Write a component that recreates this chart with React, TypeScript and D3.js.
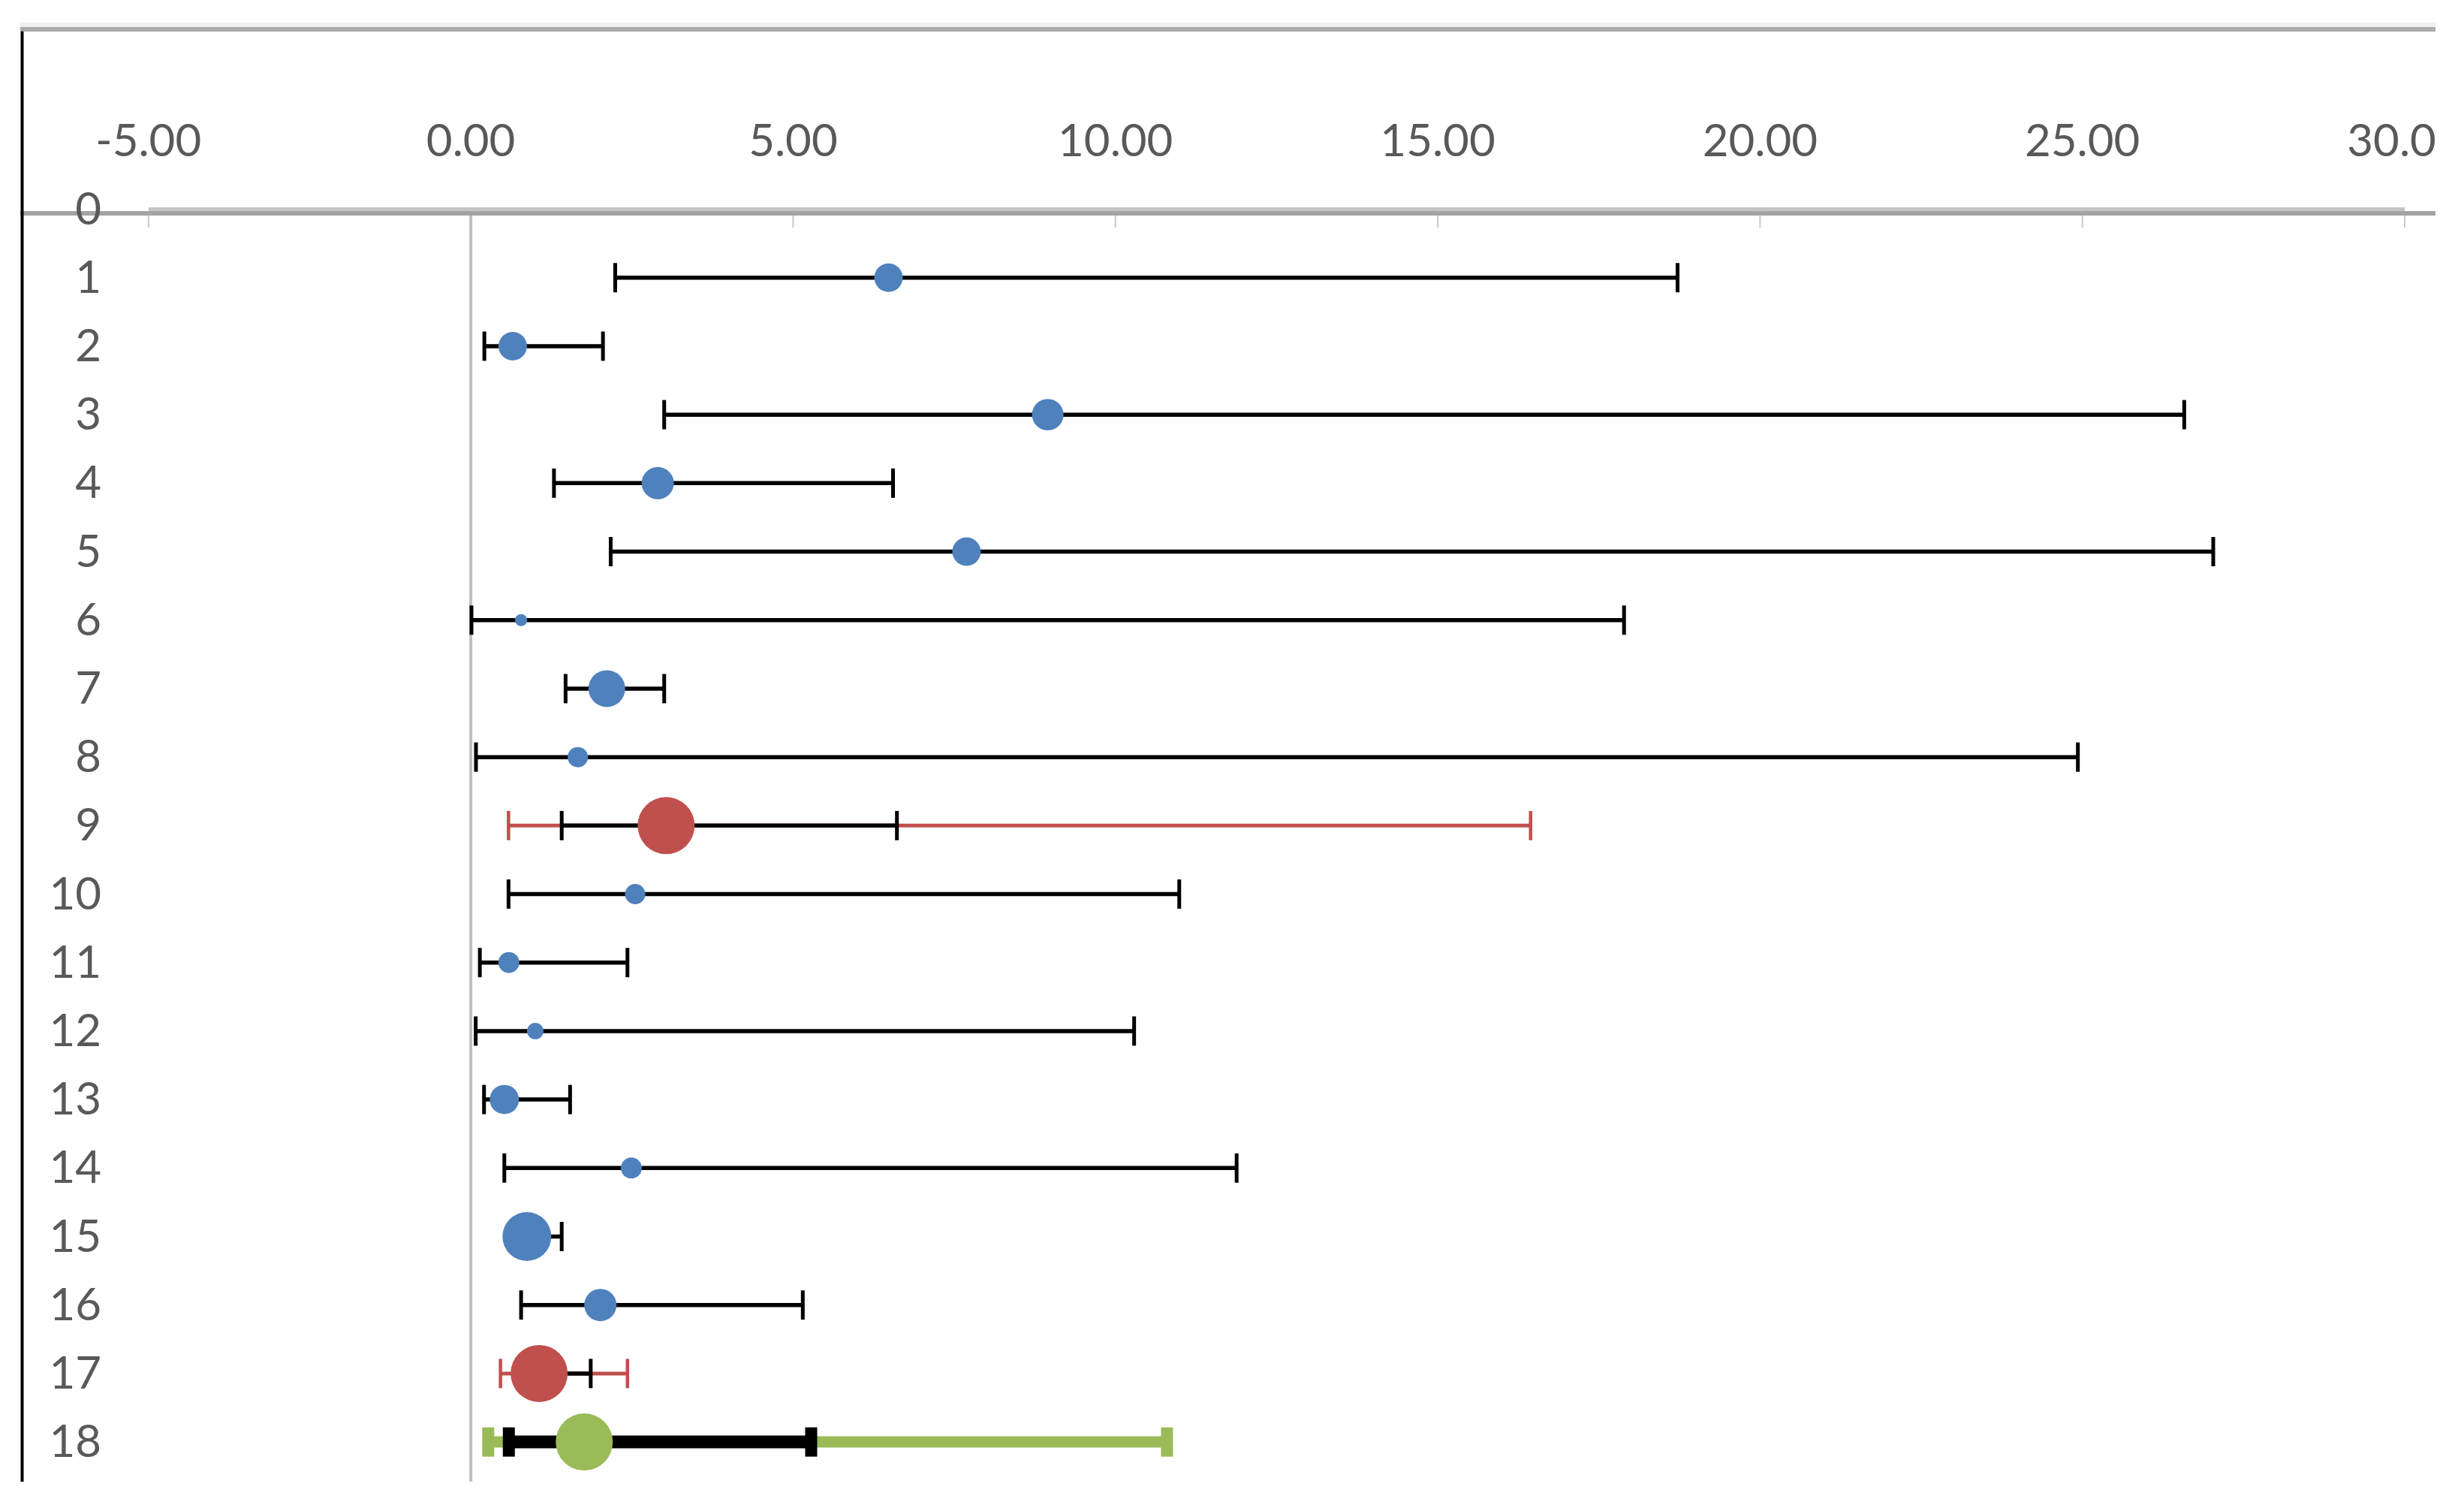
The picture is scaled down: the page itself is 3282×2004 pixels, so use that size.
import React from "react";
import * as d3 from "d3";

// ---- data ----
const rows = [1, 2, 3, 4, 5, 6, 7, 8, 9, 10, 11, 12, 13, 14, 15, 16, 17, 18];
const rowTickLabels = [0, 1, 2, 3, 4, 5, 6, 7, 8, 9, 10, 11, 12, 13, 14, 15, 16, 17, 18];
const estimates = [6.48, 0.65, 8.95, 2.9, 7.69, 0.78, 2.11, 1.66, 3.03, 2.55, 0.59, 1.0, 0.52, 2.49, 0.87, 2.01, 1.06, 1.76];
const lowerCI = [2.24, 0.21, 3.0, 1.29, 2.17, 0.01, 1.47, 0.08, 1.41, 0.585, 0.14, 0.076, 0.205, 0.52, 0.62, 0.78, 0.75, 0.59];
const upperCI = [18.72, 2.05, 26.58, 6.55, 27.03, 17.89, 3.0, 24.93, 6.61, 10.99, 2.43, 10.29, 1.54, 11.88, 1.41, 5.15, 1.86, 5.28];
const weights = [14.4, 14.4, 17.6, 18.5, 14.4, 2.6, 24.0, 7.3, 57.8, 7.3, 7.8, 4.8, 15.2, 7.8, 42.3, 18.5, 57.8, 57.8];
// kind: 0 = study (blue), 1 = subgroup summary (red), 2 = overall summary (green)
const kinds = [0, 0, 0, 0, 0, 0, 0, 0, 1, 0, 0, 0, 0, 0, 0, 0, 1, 2];
// wider (prediction) intervals for summary rows
const wideRows = [9, 17, 18];
const wideLower = [0.585, 0.46, 0.27];
const wideUpper = [16.44, 2.43, 10.8];
const xTicks = [-5, 0, 5, 10, 15, 20, 25, 30];

const W = 3282;
const H = 2004;
const kindColor = ["#4f81bd", "#c0504d", "#9bbb59"];

export default function App() {
  const x = d3.scaleLinear().domain([-5, 30]).range([197.8, 3203]);
  const y = d3.scaleLinear().domain([-2.63, 18.58]).range([38.7, 1973]);
  const r = d3.scaleSqrt().domain([0, 57.8]).range([0, 38]);
  const fmt = d3.formatLocale({ decimal: ".", thousands: ",", grouping: [3], currency: ["", ""], minus: "-" }).format(".2f");

  const clipLeft = 27;
  const clipRight = 3244;
  const axisY = y(0) + 5.5;
  const capH = 39;
  const font = "Lato, 'Open Sans', sans-serif";
  const textColor = "#595959";

  return (
    <svg
      width={W}
      height={H}
      viewBox={`0 0 ${W} ${H}`}
      style={{ position: "absolute", left: 0, top: 0, background: "#fff" }}
    >
      <defs>
        <clipPath id="chartClip">
          <rect x={clipLeft} y={0} width={clipRight - clipLeft} height={H} />
        </clipPath>
      </defs>
      <rect x={0} y={0} width={W} height={H} fill="#fff" />
      <g clipPath="url(#chartClip)">
        {/* top border */}
        <rect x={clipLeft} y={30} width={clipRight - clipLeft} height={6} fill="#efefef" />
        <rect x={clipLeft} y={36} width={clipRight - clipLeft} height={6} fill="#ababab" />

        {/* x tick labels */}
        {xTicks.map((t) => (
          <text
            key={"xt" + t}
            x={x(t)}
            y={185}
            textAnchor="middle"
            dominantBaseline="central"
            fontFamily={font}
            fontSize={60}
            fill={textColor}
          >
            {fmt(t)}
          </text>
        ))}

        {/* horizontal axis */}
        <rect x={x(-5)} y={axisY - 8} width={x(30) - x(-5)} height={5} fill="#c4c4c4" />
        <rect x={clipLeft} y={axisY - 3} width={clipRight - clipLeft} height={6} fill="#a3a3a3" />
        {xTicks.map((t) => (
          <line
            key={"tk" + t}
            x1={x(t)}
            x2={x(t)}
            y1={axisY + 3}
            y2={axisY + 19}
            stroke="#c8c8c8"
            strokeWidth={2}
          />
        ))}

        {/* zero reference line */}
        <line x1={x(0)} x2={x(0)} y1={axisY + 3} y2={y(18.58)} stroke="#bfbfbf" strokeWidth={4} />

        {/* left axis line */}
        <line x1={29.5} x2={29.5} y1={41.7} y2={y(18.58)} stroke="#000" strokeWidth={4} />

        {/* row labels */}
        {rowTickLabels.map((k) => (
          <text
            key={"yl" + k}
            x={135}
            y={y(k) - 3}
            textAnchor="end"
            dominantBaseline="central"
            fontFamily={font}
            fontSize={60}
            fill={textColor}
          >
            {k}
          </text>
        ))}

        {/* wide intervals (summary rows) */}
        {wideRows.map((row, i) => {
          const kind = kinds[row - 1];
          const col = kindColor[kind];
          const thick = kind === 2;
          const sw = thick ? 15 : 5;
          const cw = thick ? 16 : 4.5;
          const yy = y(row);
          return (
            <g key={"w" + row}>
              <line x1={x(wideLower[i])} x2={x(wideUpper[i])} y1={yy} y2={yy} stroke={col} strokeWidth={sw} />
              <rect x={x(wideLower[i]) - cw / 2} y={yy - capH / 2} width={cw} height={capH} fill={col} />
              <rect x={x(wideUpper[i]) - cw / 2} y={yy - capH / 2} width={cw} height={capH} fill={col} />
            </g>
          );
        })}

        {/* confidence intervals */}
        {rows.map((row, i) => {
          const thick = kinds[i] === 2;
          const sw = thick ? 17 : 5.5;
          const cw = thick ? 16 : 5;
          const yy = y(row);
          return (
            <g key={"ci" + row}>
              <line x1={x(lowerCI[i])} x2={x(upperCI[i])} y1={yy} y2={yy} stroke="#000" strokeWidth={sw} />
              <rect x={x(lowerCI[i]) - cw / 2} y={yy - capH / 2} width={cw} height={capH} fill="#000" />
              <rect x={x(upperCI[i]) - cw / 2} y={yy - capH / 2} width={cw} height={capH} fill="#000" />
            </g>
          );
        })}

        {/* point estimates */}
        {rows.map((row, i) => (
          <circle key={"pt" + row} cx={x(estimates[i])} cy={y(row)} r={r(weights[i])} fill={kindColor[kinds[i]]} />
        ))}
      </g>
    </svg>
  );
}
